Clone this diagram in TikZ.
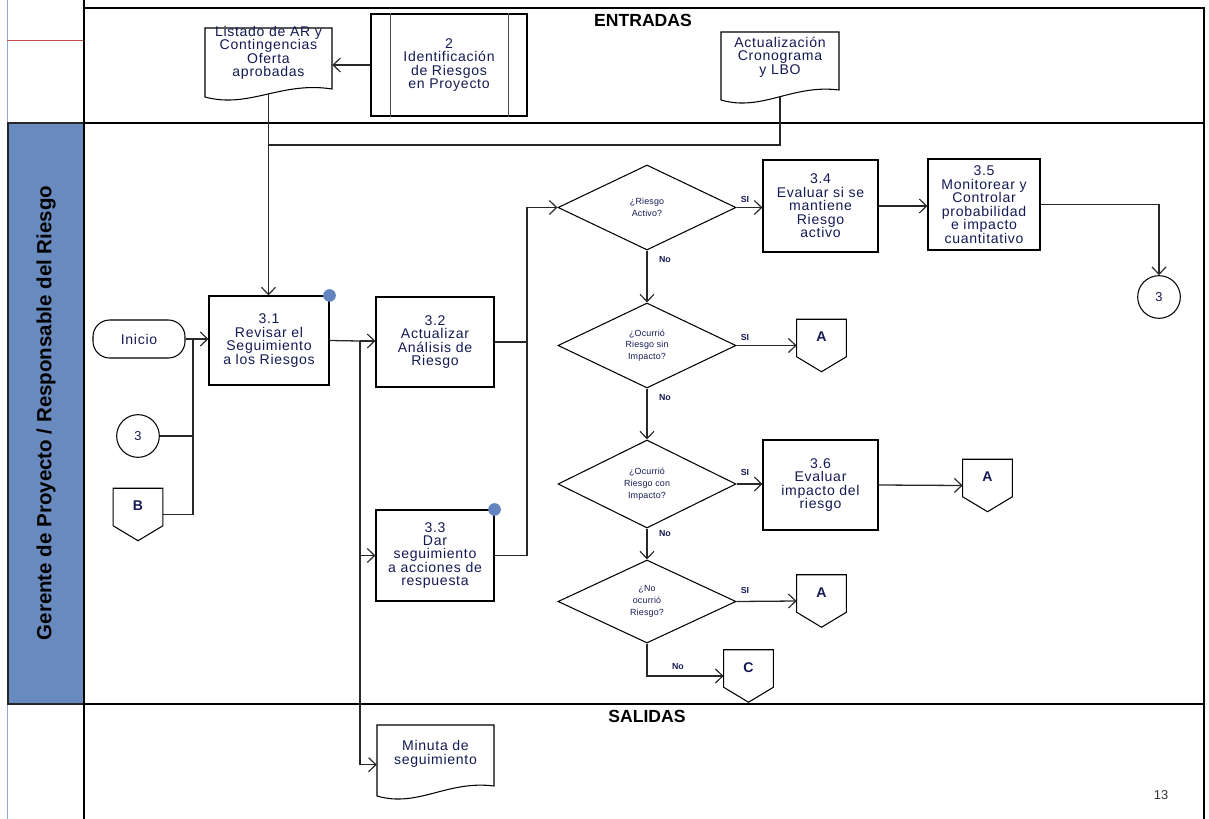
\documentclass[tikz,border=0pt]{standalone}
\usepackage{fontspec}
\setmainfont{Liberation Sans}
\newfontfamily\spaced[LetterSpace=5]{Liberation Sans}
\newfontfamily\smallspaced[LetterSpace=2]{Liberation Sans}
\usetikzlibrary{shapes.geometric,arrows.meta}
\definecolor{navy}{RGB}{20,26,82}
\definecolor{lanefill}{RGB}{104,138,190}
\definecolor{dotblue}{RGB}{100,132,192}
\definecolor{edgeblue}{RGB}{142,169,219}
\definecolor{redrule}{RGB}{192,80,77}
\definecolor{wire}{RGB}{40,40,40}

\tikzset{
  shapeline/.style={draw=black, line width=0.9pt},
  proc/.style={shapeline, rectangle, align=center, text=navy, inner sep=1pt,
    font=\spaced\fontsize{12}{11.5}\selectfont},
  doctxt/.style={rectangle, draw=none, align=center, text=navy, inner sep=0pt,
    font=\spaced\fontsize{12}{11.5}\selectfont},
  decision/.style={shapeline, diamond, align=center, text=navy, inner sep=0pt,
    minimum width=5.34cm, font=\smallspaced\fontsize{7.6}{10}\selectfont},
  term/.style={shapeline, rectangle, rounded corners=0.5cm, text=navy,
    minimum width=2.76cm, minimum height=1.14cm, font=\spaced\fontsize{12}{12}\selectfont},
  conncirc/.style={shapeline, circle, minimum size=1.28cm, inner sep=0pt, text=navy,
    font=\fontsize{11}{11}\selectfont},
  offbox/.style={rectangle, draw=none, minimum width=1.48cm, minimum height=1.56cm, inner sep=0pt},
  offtxt/.style={text=navy, inner sep=0pt, font=\fontsize{12}{12}\selectfont\bfseries},
  title/.style={inner sep=0pt, font=\fontsize{15}{15}\selectfont\bfseries},
  lanetxt/.style={inner sep=0pt, font=\fontsize{17.5}{17.5}\selectfont\bfseries},
  branch/.style={inner sep=0pt, text=navy, font=\fontsize{7.5}{7.5}\selectfont\bfseries},
  conn/.style={draw=wire, line width=1.1pt},
  arr/.style={conn, -{Straight Barb[length=0.22cm, width=0.42cm, line width=1pt]}},
  dot/.style={circle, fill=dotblue, inner sep=0pt, minimum size=0.38cm}
}

\newcommand{\offpage}[4]{%
  \node[offbox] (#1) at (#2,#3) {};
  \draw[shapeline] (#1.north west) -- (#1.north east) -- ([yshift=0.45cm]#1.south east)
    -- (#1.south) -- ([yshift=0.45cm]#1.south west) -- cycle;
  \node[offtxt] (#1t) at ([yshift=-0.53cm]#1.north) {#4};}

\begin{document}
\begin{tikzpicture}[x=0.03cm,y=-0.03cm]
\useasboundingbox (0,0) rectangle (1209,819);

% ---- page frame and swim lanes ----
\draw[edgeblue, line width=0.6pt] (7,0) -- (7,819);
\draw[redrule, line width=0.6pt] (7,40) -- (84,40);
\draw[fill=lanefill, draw=black!85, line width=0.9pt] (8,123) rectangle (84,704);
\node[lanetxt, rotate=90] (lane) at (46,413) {Gerente de Proyecto / Responsable del Riesgo};
\draw[line width=1.2pt] (84,123) -- (1204,123);
\draw[line width=1.2pt] (84,704) -- (1204,704);
\draw[line width=2.4pt] (84,8) -- (1205,8);
\draw[line width=2.4pt] (84,0) -- (84,819);
\draw[line width=1.6pt] (1204,8) -- (1204,819);

\node[title] (entradas) at (643,20) {ENTRADAS};
\node[title] (salidas) at (647,716) {SALIDAS};
\node[inner sep=0pt, text=black!80, font=\fontsize{11}{11}\selectfont] (pageno) at (1161,795) {13};

% ---- inputs ----
\node[proc, minimum width=4.68cm, minimum height=3.06cm] (pre) at (449,65)
  {2\\Identificación\\de Riesgos\\en Proyecto};
\draw[draw=black!70, line width=1.3pt] ([xshift=0.6cm]pre.north west) -- ([xshift=0.6cm]pre.south west);
\draw[draw=black!70, line width=1.3pt] ([xshift=-0.57cm]pre.north east) -- ([xshift=-0.57cm]pre.south east);

% document shapes (wavy bottom edge)
\draw[shapeline] (205,28) -- (332,28) -- (332,89) .. controls (281,81) and (249,109) .. (205,97) -- cycle;
\node[doctxt, minimum width=3.81cm, minimum height=1.98cm] (listado) at (268.5,61) {};
\node[doctxt] (listadot) at (268.5,53) {Listado de AR y\\Contingencias\\Oferta\\aprobadas};

\draw[shapeline] (721,32) -- (839,32) -- (839,90) .. controls (792,84) and (762,112) .. (721,100) -- cycle;
\node[doctxt, minimum width=3.54cm, minimum height=1.95cm] (act) at (780,64.5) {};
\node[doctxt] (actt) at (780,57) {Actualización\\Cronograma\\y LBO};

% ---- outputs ----
\draw[shapeline] (377,725) -- (494,725) -- (494,786) .. controls (447,780) and (418,808) .. (377,796) -- cycle;
\node[doctxt, minimum width=3.51cm, minimum height=1.98cm] (minuta) at (435.5,758) {};
\node[doctxt] (minutat) at (435.5,754) {Minuta de\\seguimiento};

% ---- process lane ----
\node[term] (inicio) at (139,339) {Inicio};
\node[conncirc] (c3a) at (138,436) {3};
\offpage{bpage}{138}{514.5}{B}

\node[proc, minimum width=3.6cm, minimum height=2.67cm] (r31) at (269,340.5)
  {3.1\\Revisar el\\Seguimiento\\a los Riesgos};
\node[proc, minimum width=3.54cm, minimum height=2.7cm] (r32) at (435,342)
  {3.2\\Actualizar\\Análisis de\\Riesgo};
\node[proc, minimum width=3.54cm, minimum height=2.73cm] (r33) at (435,555.5)
  {3.3\\Dar\\seguimiento\\a acciones de\\respuesta};
\node[dot] (dot31) at (r31.north east) {};
\node[dot] (dot33) at (r33.north east) {};

\node[decision, minimum height=2.55cm] (d1) at (647,207.5) {¿Riesgo\\Activo?};
\node[decision, minimum height=2.55cm] (d2) at (647,345.5) {¿Ocurrió\\Riesgo sin\\Impacto?};
\node[decision, minimum height=2.64cm] (d3) at (647,484) {¿Ocurrió\\Riesgo con\\Impacto?};
\node[decision, minimum height=2.49cm] (d4) at (647,601.5) {¿No\\ocurrió\\Riesgo?};

\node[proc, minimum width=3.45cm, minimum height=2.76cm] (r34) at (820.5,206)
  {3.4\\Evaluar si se\\mantiene\\Riesgo\\activo};
\node[proc, minimum width=3.36cm, minimum height=2.73cm] (r35) at (984,204.5)
  {3.5\\Monitorear y\\Controlar\\probabilidad\\e impacto\\cuantitativo};
\node[proc, minimum width=3.45cm, minimum height=2.7cm] (r36) at (820.5,485)
  {3.6\\Evaluar\\impacto del\\riesgo};
\node[conncirc] (c3b) at (1159,297) {3};

\offpage{apage1}{821.5}{345.5}{A}
\offpage{apage2}{987.5}{485.5}{A}
\offpage{apage3}{821.5}{601}{A}
\offpage{cpage}{748.5}{676}{C}

% ---- connectors ----
\draw[arr] (pre.west) -- (pre.west -| listado.east);
\draw[arr] (listado.south) -- (listado.south |- r31.north);
\coordinate (merge) at (listado.south |- 0,145);
\draw[conn] (act.south) |- (merge);

\coordinate (jl) at (193,339);
\draw[arr] (inicio.east) -- (r31.west |- inicio.east);
\draw[conn] (c3a.east) -| (jl);
\draw[conn] (bpage.east) -| (jl);

\coordinate (split) at (360,341);
\draw[conn] (r31.east) -- (split);
\draw[arr] (split) -- (split -| r32.west);
\draw[arr] (split) |- (r33.west);
\draw[arr] (split) |- ([yshift=-0.2cm]minuta.west);

\coordinate (jr) at (527,207.5);
\draw[conn] (r32.east) -| (jr);
\draw[conn] (r33.east) -| (jr);
\draw[arr] (jr) -- (d1.west);

\draw[arr] (d1.east) -- (r34.west |- d1.east);
\draw[arr] (r34.east) -- (r34.east -| r35.west);
\draw[arr] (r35.east) -| (c3b.north);
\draw[arr] (d1.south) -- (d2.north);
\draw[arr] (d2.east) -- (apage1.west);
\draw[arr] (d2.south) -- (d3.north);
\draw[arr] (d3.east) -- (r36.west |- d3.east);
\draw[arr] (r36.east) -- (apage2.west);
\draw[arr] (d3.south) -- (d4.north);
\draw[arr] (d4.east) -- (apage3.west);
\draw[arr] (d4.south) |- (cpage.west);

% branch labels
\node[branch] (si1) at (745,199) {SI};
\node[branch] (no1) at (665,260) {No};
\node[branch] (si2) at (745,337) {SI};
\node[branch] (no2) at (665,398) {No};
\node[branch] (si3) at (745,472) {SI};
\node[branch] (no3) at (665,534) {No};
\node[branch] (si4) at (745,590) {SI};
\node[branch] (no4) at (678,667) {No};
\end{tikzpicture}
\end{document}
